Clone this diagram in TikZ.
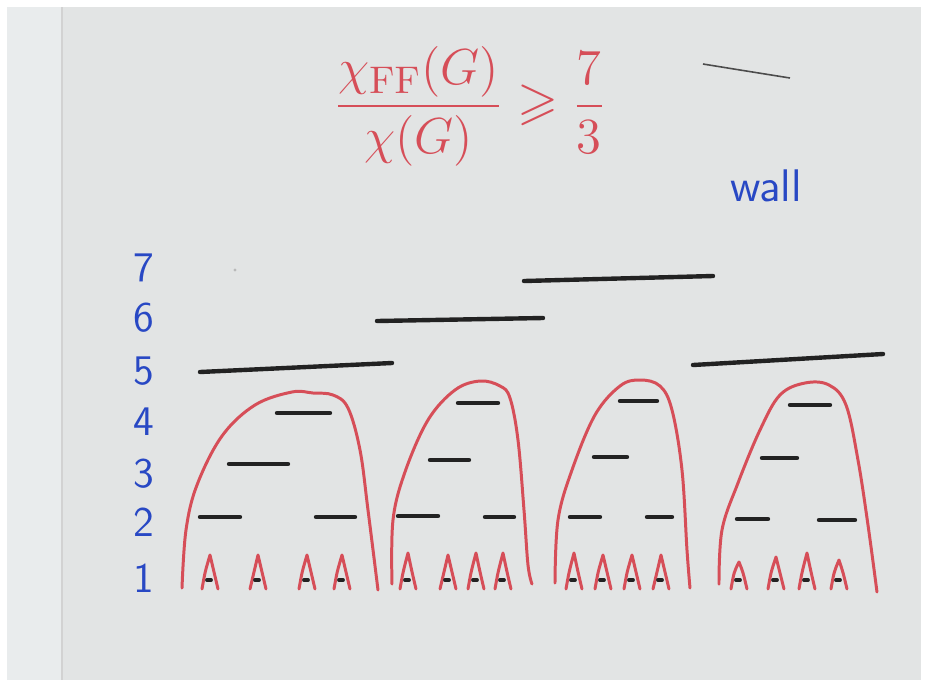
\documentclass[tikz,border=0pt]{standalone}
\usepackage{amssymb}
\definecolor{penred}{RGB}{214,78,88}
\definecolor{penblue}{RGB}{40,72,196}
\definecolor{penblack}{RGB}{34,34,34}
\definecolor{paper}{RGB}{226,228,228}
\definecolor{paperedge}{RGB}{233,236,237}
\begin{document}
\begin{tikzpicture}[x=0.01cm,y=-0.01cm,
  tent/.style={draw=penred,line width=0.85pt,line join=round,line cap=round},
  bar/.style={draw=penblack,line width=1.25pt,line cap=round},
  lvl/.style={text=penblue,font=\sffamily\fontsize{12}{14}\selectfont}]
\useasboundingbox (0,0) rectangle (935,684);
\fill[white] (0,0) rectangle (935,684);
\fill[paper] (7,7) rectangle (921,680);
\fill[paperedge] (7,7) rectangle (62,680);
\draw[gray!35,line width=0.6pt] (62,7) -- (62,680);
\draw[gray!60!black,line width=0.45pt] (703,64) .. controls (740,70) .. (790,78);
\fill[gray!55] (235,270) circle (1.6);
\node[text=penred,font=\fontsize{15}{18}\selectfont] (ratio) at (470,106)
  {$\displaystyle\frac{\chi_{\mathrm{FF}}(G)}{\chi(G)}\geqslant\frac{7}{3}$};
\node[lvl,font=\sffamily\fontsize{13}{15}\selectfont] (wall) at (766,186) {wall};
\foreach \n/\y in {7/268,6/318,5/371,4/422,3/474,2/522,1/578}
  \node[lvl] (lv\n) at (144,\y) {\n};
\draw[bar] (200,372) -- (392,363);
\draw[bar] (377,321) -- (543,318);
\draw[bar] (524,281) -- (713,276);
\draw[bar] (693,365) -- (883,354);
\draw[tent] plot[smooth,tension=0.6] coordinates {(182,588) (186,530) (197,485) (222,436) (255,405) (292,392) (313,393) (333,395) (348,408) (360,450) (368,510) (378,590)};
\draw[tent] plot[smooth,tension=0.6] coordinates {(392,584) (393,520) (405,472) (428,420) (455,390) (480,381) (500,386) (510,398) (518,440) (524,510) (528,565) (532,584)};
\draw[tent] plot[smooth,tension=0.6] coordinates {(555,583) (558,520) (572,470) (595,415) (620,386) (640,380) (660,386) (672,410) (682,470) (687,550) (690,588)};
\draw[tent] plot[smooth,tension=0.6] coordinates {(719,584) (722,530) (738,483) (760,430) (780,395) (805,383) (829,385) (846,405) (858,460) (868,525) (877,592)};
\foreach \a/\b/\y in {277/330/413,229/288/464,200/240/517,316/355/517,
    458/498/403,430/469/460,398/438/516,485/514/517,
    620/657/401,594/627/457,570/600/517,647/672/517,
    790/830/405,762/797/458,737/768/519,819/855/520}
  \draw[bar] (\a,\y) -- (\b,\y);
\foreach \c/\t in {210/555,258/555,307/555,342/555,408/553,448/555,476/553,503/553,
    574/553,603/555,632/555,661/555,739/562,776/557,807/553,839/560}{
  \draw[tent] (\c-8,589) .. controls (\c-5,572) .. (\c,\t) .. controls (\c+4,572) .. (\c+8,589);
  \draw[bar,line width=1.1pt] (\c-3,580) -- (\c+1,580);
}
\end{tikzpicture}
\end{document}
